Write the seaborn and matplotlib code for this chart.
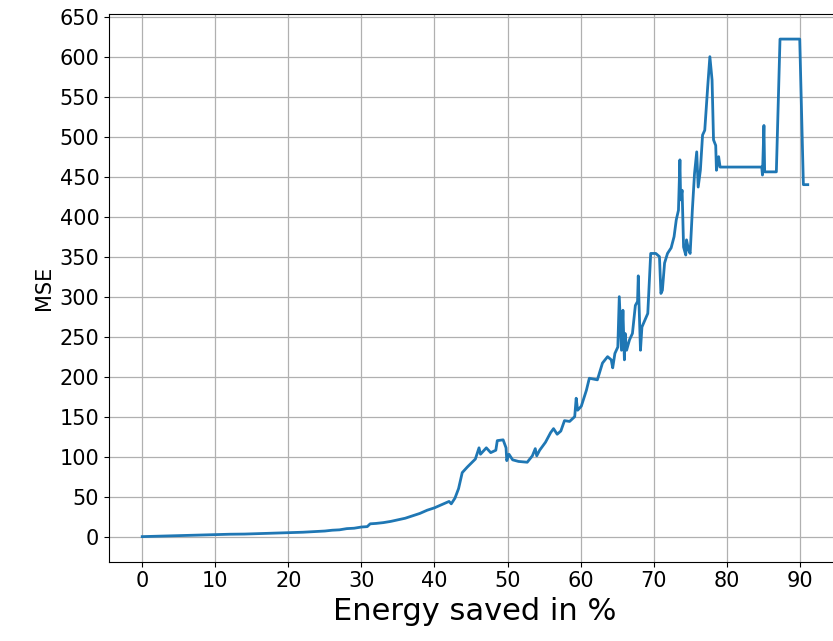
import matplotlib
matplotlib.use("Agg")
import matplotlib.pyplot as plt
import seaborn as sns
import pandas as pd
import numpy as np

energy_saved = [
    0, 2, 4, 6, 8, 10, 12, 14, 16, 18, 20, 22, 24, 25, 26, 27, 28, 29, 30, 30.8,
    31.2, 32, 33, 34, 35, 36, 37, 38, 39, 40, 41, 42, 42.3, 42.8, 43.3, 43.8, 44.5,
    45.6, 46.1, 46.3, 46.7, 47.1, 47.7, 48.4, 48.6, 49.4, 49.8, 49.9, 50.2, 50.7,
    51.5, 52.7, 53.4, 53.8, 54.0, 54.4, 55.2, 55.9, 56.3, 56.8, 57.3, 57.8, 58.5,
    59.2, 59.4, 59.6, 60.1, 60.8, 61.2, 62.3, 63.0, 63.7, 64.2, 64.4, 64.7, 65.1,
    65.3, 65.6, 65.8, 66.0, 66.1, 66.3, 66.7, 67.1, 67.5, 67.8, 67.9, 68.0, 68.2,
    68.4, 69.2, 69.6, 70.3, 70.8, 71.0, 71.2, 71.5, 71.9, 72.4, 72.8, 73.1, 73.4,
    73.6, 73.7, 73.9, 74.1, 74.4, 74.5, 74.8, 75.0, 75.3, 75.6, 75.9, 76.1, 76.4,
    76.7, 77.0, 77.4, 77.7, 78.0, 78.2, 78.5, 78.6, 78.9, 79.1, 84.8, 84.9, 85.1,
    85.2, 86.8, 87.3, 90.0, 90.5, 91.1,
]
mse = [
    0, 0.5, 1, 1.5, 2, 2.5, 3, 3.2, 3.8, 4.5, 5, 5.5, 6.5, 7, 8, 8.5, 10, 10.5, 12, 12.5,
    16, 16.5, 17.5, 19, 21, 23, 26, 29, 33, 36, 40, 44, 41, 48, 60, 80, 87,
    97, 111, 103, 107, 111, 105, 108, 120, 121, 111, 95, 103, 96,
    94, 93, 101, 110, 101, 108, 118, 130, 135, 128, 132, 145, 144,
    150, 173, 158, 163, 183, 198, 196, 217, 225, 221, 211, 229, 237,
    300, 233, 283, 221, 254, 233, 246, 254, 289, 294, 326, 292, 233,
    262, 279, 354, 354, 350, 304, 308, 342, 354, 361, 375, 396, 408,
    471, 421, 433, 362, 352, 371, 358, 354, 408, 454, 481, 437, 458,
    502, 508, 562, 600, 571, 496, 489, 458, 475, 462, 462, 452, 514,
    456, 456, 622, 622, 440, 440,
]

x_ticks = list(range(0, 100, 10))
y_ticks = list(range(0, 700, 50))

df = pd.DataFrame({"energy": energy_saved, "mse": mse})

fig = plt.figure(figsize=(8.33, 6.41), dpi=100)
ax = fig.add_axes([109 / 833, 79.5 / 641, 732 / 833, 547.3 / 641])
sns.lineplot(data=df, x="energy", y="mse", ax=ax, color="#1f77b4",
             linewidth=2.0, sort=False, estimator=None)
ax.set_xticks(x_ticks)
ax.set_yticks(y_ticks)
ax.set_xlim(-4.55, 95.65)
ax.set_ylim(-31.1, 653.1)
ax.grid(True, color="#b0b0b0", linewidth=0.9)
ax.set_axisbelow(True)
ax.tick_params(labelsize=15)
ax.set_xlabel("Energy saved in %", fontsize=22)
ax.set_ylabel("MSE", fontsize=15)
fig.savefig("out.png", dpi=100)
